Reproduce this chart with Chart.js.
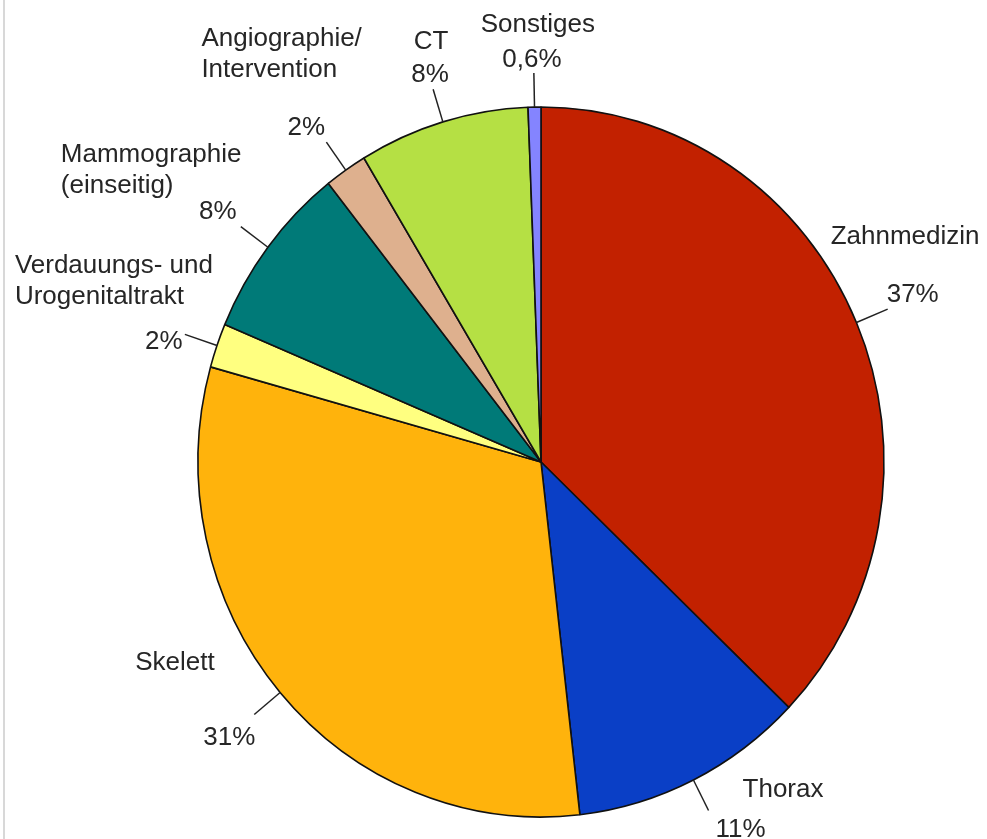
<!DOCTYPE html>
<html lang="de">
<head>
<meta charset="utf-8">
<title>Röntgenuntersuchungen nach Anwendungsbereich</title>
<script src="https://cdn.jsdelivr.net/npm/chart.js@4"></script>
<style>
  html, body { margin: 0; padding: 0; background: #fff; }
  #wrap { position: relative; width: 987px; height: 839px; overflow: hidden; }
  #c { position: absolute; left: 0; top: 0; }
  #edge { position: absolute; left: 3px; top: 0; width: 2px; height: 839px; background: #d8d8d8; }
</style>
</head>
<body>
<div id="wrap">
  <canvas id="c" width="987" height="839"></canvas>
  <div id="edge"></div>
</div>
<script>
// Anwendungsbereiche (clockwise from 12 o'clock), label lines per category
const categories = [
  ["Zahnmedizin"],
  ["Thorax"],
  ["Skelett"],
  ["Verdauungs- und", "Urogenitaltrakt"],
  ["Mammographie", "(einseitig)"],
  ["Angiographie/", "Intervention"],
  ["CT"],
  ["Sonstiges"]
];

// Anteil an allen Röntgenuntersuchungen in %
const shares = [37, 11, 31, 2, 8, 2, 8, 0.6];

const sliceColors = [
  "#c22100", // Zahnmedizin
  "#0a3fc6", // Thorax
  "#ffb30c", // Skelett
  "#ffff80", // Verdauungs- und Urogenitaltrakt
  "#007a78", // Mammographie
  "#deb08e", // Angiographie/Intervention
  "#b5e044", // CT
  "#8484ff"  // Sonstiges
];

// Text placement relative to the outer end of each leader line (px)
const labelLayout = [
  { pct: [25, -14],  name: [-57, -72],   align: "left" },
  { pct: [32, 19],   name: [34, -21],    align: "left" },
  { pct: [-25, 23],  name: [-119, -52],  align: "left" },
  { pct: [-21, 7],   name: [-170, -69],  align: "left" },
  { pct: [-23, -15], name: [-180, -72],  align: "left" },
  { pct: [-20, -14], name: [-125, -103], align: "left" },
  { pct: [-3, -14],  name: [-2, -47],    align: "center" },
  { pct: [-2, -13],  name: [4, -48],     align: "center" }
];

const RADIUS_X = 343;       // horizontal pie radius
const SQUASH_Y = 355 / 343; // the pie is slightly taller than wide
const LEADER = 34;          // leader line length
const FONT = '26px "Liberation Sans", Arial, Helvetica, sans-serif';
const LINE_H = 31;
const TEXT_COLOR = "#262626";

function fmtPct(v) {
  return String(v).replace(".", ",") + "%";
}

// Stretch the pie vertically around its centre
const ellipsePie = {
  id: "ellipsePie",
  beforeDatasetsDraw(chart) {
    const arc = chart.getDatasetMeta(0).data[0];
    const ctx = chart.ctx;
    ctx.save();
    ctx.translate(arc.x, arc.y);
    ctx.scale(1, SQUASH_Y);
    ctx.translate(-arc.x, -arc.y);
  },
  afterDatasetsDraw(chart) {
    chart.ctx.restore();
  }
};

// Leader lines and category / percentage labels
const sliceLabels = {
  id: "sliceLabels",
  afterDraw(chart) {
    const ctx = chart.ctx;
    const meta = chart.getDatasetMeta(0);
    ctx.save();
    ctx.font = FONT;
    ctx.fillStyle = TEXT_COLOR;
    ctx.strokeStyle = "#222";
    ctx.lineWidth = 1.5;
    ctx.textBaseline = "middle";
    meta.data.forEach((arc, i) => {
      const mid = (arc.startAngle + arc.endAngle) / 2;
      const rx = arc.outerRadius;
      const ry = arc.outerRadius * SQUASH_Y;
      const c = Math.cos(mid), s = Math.sin(mid);
      const x0 = arc.x + c * rx, y0 = arc.y + s * ry;
      const x1 = arc.x + c * (rx + LEADER), y1 = arc.y + s * (ry + LEADER);
      ctx.beginPath();
      ctx.moveTo(x0, y0);
      ctx.lineTo(x1, y1);
      ctx.stroke();

      const lay = labelLayout[i];
      ctx.textAlign = "center";
      ctx.fillText(fmtPct(shares[i]), x1 + lay.pct[0], y1 + lay.pct[1]);

      ctx.textAlign = lay.align;
      categories[i].forEach((line, k) => {
        ctx.fillText(line, x1 + lay.name[0], y1 + lay.name[1] + k * LINE_H);
      });
    });
    ctx.restore();
  }
};

new Chart(document.getElementById("c"), {
  type: "pie",
  data: {
    labels: categories,
    datasets: [{
      data: shares,
      backgroundColor: sliceColors,
      borderColor: "#111",
      borderWidth: 1.6
    }]
  },
  options: {
    responsive: false,
    animation: false,
    radius: RADIUS_X,
    layout: { padding: { left: 100, right: 5, top: 92, bottom: 7 } },
    plugins: {
      legend: { display: false },
      tooltip: { enabled: false }
    }
  },
  plugins: [ellipsePie, sliceLabels]
});
</script>
</body>
</html>
